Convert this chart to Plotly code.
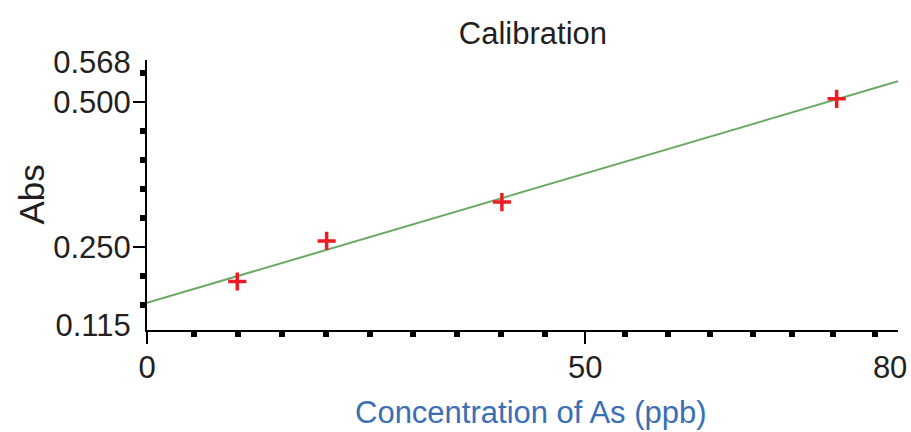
import numpy as np
import plotly.graph_objects as go

# ---- data ----
conc = [10.3, 20.5, 40.5, 78.7]          # Concentration of As (ppb)
absb = [0.190, 0.260, 0.327, 0.505]      # Abs

X_RANGE = [0, 85.7]
Y_RANGE = [0.1064, 0.572]

x_label_vals = [0, 50, 84.8]
x_label_text = ["0", "50", "80"]
x_major_ticks = [0, 50]
x_minor_ticks = [5.4, 10.4, 15.4, 20.4, 25.4, 30.4, 35.4, 40.4, 45.4,
                 54.6, 59.4, 64.3, 69.1, 73.6, 78.3, 83.1]

y_label_vals = [0.115, 0.25, 0.5, 0.568]
y_label_text = ["0.115", "0.250", "0.500", "0.568"]
y_major_ticks = [0.25, 0.5]
y_minor_ticks = [0.15, 0.20, 0.30, 0.35, 0.40, 0.45, 0.55]

TEXT = "#231f20"
BLUE = "#3a6eb5"
RED = "#ed1c24"
GREEN = "#6aa964"
FONT = "Liberation Sans, Arial, sans-serif"
FS = 31

# linear fit from the data
slope, intercept = np.polyfit(conc, absb, 1)
fit_x = np.array(X_RANGE)
fit_y = slope * fit_x + intercept

fig = go.Figure()
fig.add_trace(go.Scatter(x=fit_x, y=fit_y, mode="lines",
                         line=dict(color=GREEN, width=2), showlegend=False,
                         hoverinfo="skip"))
fig.add_trace(go.Scatter(x=conc, y=absb, mode="markers",
                         marker=dict(symbol="cross-thin", size=13,
                                     line=dict(width=3.5, color=RED)),
                         showlegend=False))
# empty trace to host the tick-only overlay axes
fig.add_trace(go.Scatter(x=[], y=[], xaxis="x2", yaxis="y2", showlegend=False))

fig.update_layout(
    width=911, height=432,
    margin=dict(l=147, r=13, t=60, b=102, autoexpand=False),
    paper_bgcolor="white", plot_bgcolor="white",
    font=dict(family=FONT, color=TEXT, size=FS),
    title=dict(text="Calibration", x=0.585, xanchor="center",
               y=0.924, yanchor="middle", font=dict(size=FS, color=TEXT)),
    xaxis=dict(range=X_RANGE, showgrid=False, zeroline=False, automargin=False,
               showline=True, linecolor="black", linewidth=2,
               tickmode="array", tickvals=x_label_vals, ticktext=x_label_text,
               ticks="", ticklabelstandoff=9,
               tickfont=dict(size=FS, color=TEXT)),
    yaxis=dict(range=Y_RANGE, showgrid=False, zeroline=False, automargin=False,
               showline=True, linecolor="black", linewidth=2,
               tickmode="array", tickvals=y_label_vals, ticktext=y_label_text,
               ticks="", ticklabelstandoff=8,
               tickfont=dict(size=FS, color=TEXT)),
    xaxis2=dict(range=X_RANGE, overlaying="x", anchor="y", side="bottom",
                showgrid=False, zeroline=False, showline=False, automargin=False,
                tickmode="array", tickvals=x_major_ticks, showticklabels=False,
                ticks="outside", ticklen=13, tickwidth=2, tickcolor="black",
                minor=dict(tickmode="array", tickvals=x_minor_ticks,
                           ticks="outside", ticklen=6, tickwidth=6,
                           tickcolor="black")),
    yaxis2=dict(range=Y_RANGE, overlaying="y", anchor="x", side="left",
                showgrid=False, zeroline=False, showline=False, automargin=False,
                tickmode="array", tickvals=y_major_ticks, showticklabels=False,
                ticks="outside", ticklen=13, tickwidth=2, tickcolor="black",
                minor=dict(tickmode="array", tickvals=y_minor_ticks,
                           ticks="outside", ticklen=6, tickwidth=6,
                           tickcolor="black")),
    annotations=[
        dict(text="Abs", xref="paper", yref="paper", x=-0.155, y=0.5,
             xanchor="center", yanchor="middle", textangle=-90,
             showarrow=False, font=dict(size=35, color=TEXT)),
        dict(text="Concentration of As (ppb)", xref="paper", yref="paper",
             x=0.5115, y=-0.304, xanchor="center", yanchor="middle",
             showarrow=False, font=dict(size=FS, color=BLUE)),
    ],
)

fig.write_html("out.html")
